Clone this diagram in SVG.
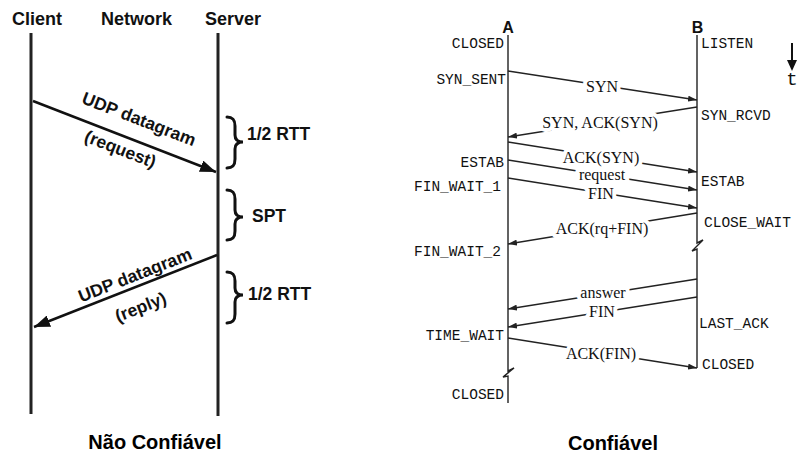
<svg xmlns="http://www.w3.org/2000/svg" width="808" height="460" viewBox="0 0 808 460">
<style>
.hdr{font-family:"Liberation Sans",Arial,sans-serif;font-weight:bold;font-size:18px;fill:#111}
.big{font-family:"Liberation Sans",Arial,sans-serif;font-weight:bold;font-size:20px;fill:#000}
.lbl{font-family:"Liberation Sans",Arial,sans-serif;font-weight:bold;font-size:17.5px;fill:#111}
.life{stroke:#222;stroke-width:3;fill:none}
.ularrow{stroke:#111;stroke-width:2.5;fill:none}
.brace{stroke:#111;stroke-width:3;fill:none;stroke-linecap:round}
.st{font-family:"Liberation Mono","Courier New",monospace;font-size:14.5px;fill:#111}
.msg{font-family:"Liberation Serif","Times New Roman",serif;font-size:16px;fill:#111;text-anchor:middle;paint-order:stroke;stroke:#fff;stroke-width:8;stroke-linejoin:round}
.tl{stroke:#222;stroke-width:1.4;fill:none}
.ar{stroke:#222;stroke-width:1.3;fill:none}
.ab{font-family:"Liberation Sans",Arial,sans-serif;font-weight:bold;font-size:16px;fill:#111;text-anchor:middle}
</style>
<defs>
<marker id="bigHead" markerUnits="userSpaceOnUse" markerWidth="18" markerHeight="12" refX="16" refY="6" orient="auto">
<path d="M0,0 L16,6 L0,12 z" fill="#111"/>
</marker>
<marker id="smallHead" markerUnits="userSpaceOnUse" markerWidth="10" markerHeight="6" refX="9" refY="3" orient="auto">
<path d="M0,0 L9,3 L0,6 z" fill="#222"/>
</marker>
</defs>

<!-- Left diagram: UDP (não confiável) -->
<g id="client">
<text class="hdr" x="12" y="25">Client</text>
<line class="life" x1="31" y1="33" x2="31" y2="414"/>
</g>
<g id="network">
<text class="hdr" x="101" y="25">Network</text>
</g>
<g id="server">
<text class="hdr" x="205" y="25">Server</text>
<line class="life" x1="218" y1="33" x2="218" y2="416"/>
</g>
<g id="braces">
<path class="brace" d="M227,117 C233,117 235,120 235,126 L235,135 C235,140 238,142 243,142 C238,142 235,144 235,149 L235,159 C235,165 233,168 227,168"/>
<text class="lbl" x="247" y="140">1/2 RTT</text>
<path class="brace" d="M227,190 C233,190 235,193 235,199 L235,210 C235,215 238,217 243,217 C238,217 235,219 235,224 L235,231 C235,237 233,240 227,240"/>
<text class="lbl" x="252" y="222">SPT</text>
<path class="brace" d="M227,272 C233,272 235,275 235,281 L235,288 C235,293 238,295 243,295 C238,295 235,297 235,302 L235,314 C235,320 233,323 227,323"/>
<text class="lbl" x="248" y="300">1/2 RTT</text>
</g>
<g id="udp-connectors">
<line class="ularrow" x1="33" y1="101" x2="216" y2="172" marker-end="url(#bigHead)"/>
<text class="lbl" text-anchor="middle" transform="translate(139,119) rotate(21.2)" y="6">UDP datagram</text>
<text class="lbl" text-anchor="middle" transform="translate(120,150) rotate(21.2)" y="5">(request)</text>
<line class="ularrow" x1="217" y1="255" x2="34" y2="327" marker-end="url(#bigHead)"/>
<text class="lbl" text-anchor="middle" transform="translate(135,275) rotate(-21.4)" y="6">UDP datagram</text>
<text class="lbl" text-anchor="middle" transform="translate(141,308) rotate(-21.4)" y="5">(reply)</text>
</g>
<text class="big" x="155" y="449" text-anchor="middle">Não Confiável</text>

<!-- Right diagram: TCP (confiável) -->
<g id="hostA">
<text class="ab" x="508" y="33">A</text>
<path class="tl" d="M508,35 V371 L514,368 L503,377 L508,376 V403"/>
<g class="st" text-anchor="end">
<text x="504" y="48">CLOSED</text>
<text x="506" y="84">SYN_SENT</text>
<text x="504" y="167">ESTAB</text>
<text x="501" y="191">FIN_WAIT_1</text>
<text x="501" y="256">FIN_WAIT_2</text>
<text x="504" y="340">TIME_WAIT</text>
<text x="504" y="399">CLOSED</text>
</g>
</g>
<g id="hostB">
<text class="ab" x="697.5" y="33">B</text>
<path class="tl" d="M697,35 V243 L703,240 L692,251 L697,249 V368"/>
<g class="st">
<text x="701" y="48">LISTEN</text>
<text x="701" y="120">SYN_RCVD</text>
<text x="701" y="186">ESTAB</text>
<text x="704" y="227">CLOSE_WAIT</text>
<text x="699" y="328">LAST_ACK</text>
<text x="702" y="369">CLOSED</text>
</g>
</g>
<g id="time-axis">
<line x1="792" y1="43" x2="792" y2="62" stroke="#111" stroke-width="2"/>
<path d="M787,60 L792,71 L797,60 z" fill="#111"/>
<text class="st" x="792" y="85" text-anchor="middle" style="font-size:19px">t</text>
</g>
<g id="tcp-connectors">
<line class="ar" x1="508" y1="71" x2="697" y2="100" marker-end="url(#smallHead)"/>
<text class="msg" x="602" y="92">SYN</text>
<line class="ar" x1="697" y1="107" x2="508" y2="137" marker-end="url(#smallHead)"/>
<text class="msg" x="600" y="128">SYN, ACK(SYN)</text>
<line class="ar" x1="508" y1="142" x2="697" y2="172" marker-end="url(#smallHead)"/>
<text class="msg" x="601" y="163">ACK(SYN)</text>
<line class="ar" x1="508" y1="160" x2="697" y2="190" marker-end="url(#smallHead)"/>
<text class="msg" x="602" y="180">request</text>
<line class="ar" x1="508" y1="178" x2="697" y2="208" marker-end="url(#smallHead)"/>
<text class="msg" x="601" y="199">FIN</text>
<line class="ar" x1="697" y1="213" x2="508" y2="244" marker-end="url(#smallHead)"/>
<text class="msg" x="602" y="234">ACK(rq+FIN)</text>
<line class="ar" x1="697" y1="279" x2="508" y2="309" marker-end="url(#smallHead)"/>
<text class="msg" x="603" y="298">answer</text>
<line class="ar" x1="697" y1="297" x2="508" y2="327" marker-end="url(#smallHead)"/>
<text class="msg" x="602" y="317">FIN</text>
<line class="ar" x1="508" y1="338" x2="697" y2="368" marker-end="url(#smallHead)"/>
<text class="msg" x="601" y="359">ACK(FIN)</text>
</g>
<text class="big" x="613" y="450" text-anchor="middle">Confiável</text>
</svg>
